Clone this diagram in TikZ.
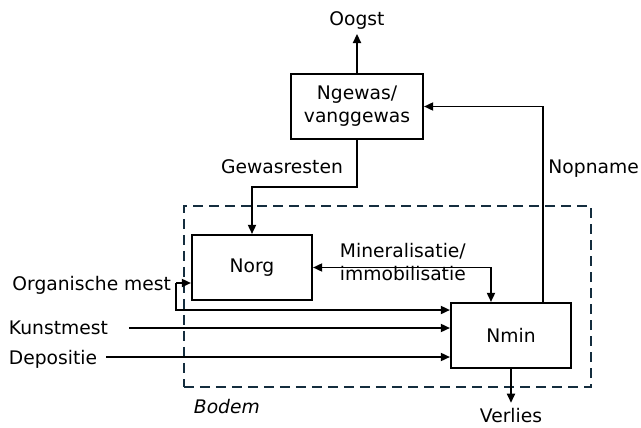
\documentclass[tikz,border=0pt]{standalone}
\usepackage{fontspec}
\setmainfont{DejaVu Sans}
\usetikzlibrary{arrows.meta,calc}
\definecolor{bodemblue}{RGB}{20,45,62}
\newcommand{\diagfont}{\fontsize{13.3}{16.5}\selectfont}
\tikzset{
	>={Triangle[length=0.23cm,width=0.2cm]},
	block/.style = {draw, line width=1.4pt, minimum width=3cm, minimum height=1.625cm, align=center},
	flow/.style = {->, line width=1.4pt},
	inlabel/.style = {anchor=west, text depth=0pt},
}

\begin{document}
\begin{tikzpicture}[
x = 0.025cm, y = -0.025cm,
every node/.style = {
	font = \diagfont,
}
]
\useasboundingbox (0,0) rectangle (641,428);

% soil compartment
\node[draw=bodemblue, line width=1.4pt, dash pattern=on 0.25cm off 0.15cm,
	minimum width=10.175cm, minimum height=4.525cm] (soil) at (387.5,296.5) {};
\node[anchor=west, font=\diagfont\itshape] (bodem) at (189,407) {Bodem};

% pools
\node[block, minimum width=3.3cm] (ngewas) at (357,106.5) {Ngewas/\\vanggewas};
\node[block] (norg) at (252,267.5) {Norg};
\node[block] (nmin) at (511,335.5) {Nmin};

% in- and outputs
\node[anchor=base] (oogst) at (357,25) {Oogst};
\node[anchor=base] (verlies) at (511,422) {Verlies};
\node[inlabel, anchor=east] (orgmest) at (176,283) {Organische mest};
\node[inlabel] (kunstmest) at (4,328) {Kunstmest};
\node[inlabel] (depositie) at (4,357) {Depositie};

% flow labels
\node (gewasresten) at (282,167) {Gewasresten};
\node[anchor=west] (nopname) at (543.5,169) {Nopname};
\node[anchor=west, align=left] (mineral) at (335,262) {Mineralisatie/\\immobilisatie};
\coordinate (gbend) at (300,187);

% flows
\draw[flow] (ngewas.north) -- (oogst.south);
\draw[flow] (ngewas.south) |- (gbend) -| (norg.north);
\draw[flow] ([xshift=0.8cm]nmin.north) |- (ngewas.east);
\draw[flow, <->] (norg.east) -| ([xshift=-0.5cm]nmin.north);
\draw[flow] (orgmest.east) -- (orgmest.east -| norg.west);
\draw[flow] (orgmest.east) |- ([yshift=-0.2cm]nmin.north west);
\draw[flow] ([xshift=0.4cm]kunstmest.east) -- (kunstmest.east -| nmin.west);
\draw[flow] ([xshift=0.1cm]depositie.east) -- (depositie.east -| nmin.west);
\draw[flow] (nmin.south) -- (verlies.north);

\end{tikzpicture}
\end{document}
